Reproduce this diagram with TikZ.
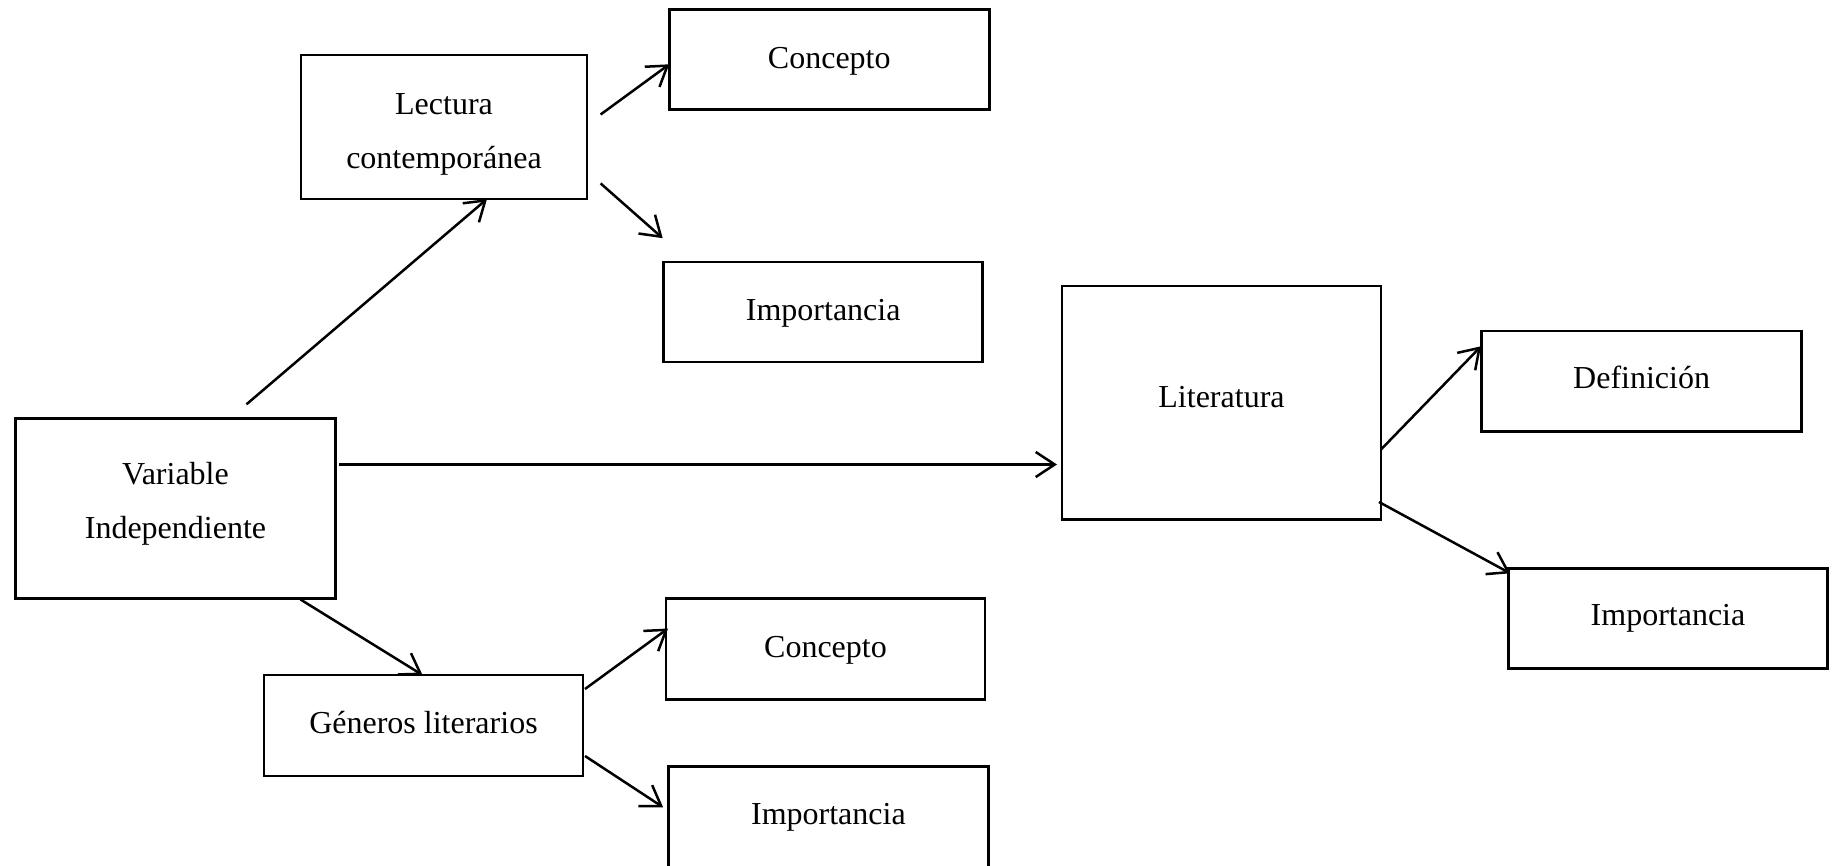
\documentclass[tikz,border=0pt]{standalone}
\usepackage{fontspec}
\setmainfont{Liberation Serif}
\usetikzlibrary{arrows.meta}
\begin{document}
\begin{tikzpicture}[x=1pt,y=-1pt,
  box/.style={draw, line width=2.6pt, inner sep=0pt, outer sep=0pt},
  lab/.style={anchor=base, inner sep=0pt, outer sep=0pt, font=\fontsize{32}{38}\selectfont},
  conn/.style={line width=2.5pt, -{Straight Barb[length=19pt,width=25pt]}}]
\useasboundingbox (0,0) rectangle (1832,866);
% boxes
\node[box, minimum width=286pt, minimum height=144pt] (lec) at (444,127) {};
\node[box, minimum width=320pt, minimum height=100pt] (con1) at (829.3,59.7) {};
\node[box, minimum width=319pt, minimum height=100pt] (imp1) at (823.2,312.2) {};
\node[box, minimum width=320pt, minimum height=180pt] (var) at (175.5,508.5) {};
\node[box, minimum width=319pt, minimum height=233pt] (lit) at (1221.5,402.7) {};
\node[box, minimum width=320pt, minimum height=100.6pt] (def) at (1641.6,381.3) {};
\node[box, minimum width=319pt, minimum height=100pt] (imp3) at (1668,618.3) {};
\node[box, minimum width=319pt, minimum height=101pt] (gen) at (423.5,725.5) {};
\node[box, minimum width=319pt, minimum height=100.7pt] (con2) at (825.5,649) {};
\node[box, minimum width=320pt, minimum height=103.5pt] (imp2) at (828.4,818.25) {};
% texts (baselines)
\node[lab] (lecA) at ([yshift=12pt]lec.center) {Lectura};
\node[lab] (lecB) at ([yshift=-42pt]lec.center) {contemporánea};
\node[lab] (con1T) at ([yshift=-8.8pt]con1.center) {Concepto};
\node[lab] (imp1T) at ([yshift=-8pt]imp1.center) {Importancia};
\node[lab] (varA) at ([yshift=23.8pt]var.center) {Variable};
\node[lab] (varB) at ([yshift=-30.2pt]var.center) {Independiente};
\node[lab] (litT) at ([yshift=-4.5pt]lit.center) {Literatura};
\node[lab] (defT) at ([yshift=-7.5pt]def.center) {Definición};
\node[lab] (imp3T) at ([yshift=-7.3pt]imp3.center) {Importancia};
\node[lab] (genT) at ([yshift=-8.2pt]gen.center) {Géneros literarios};
\node[lab] (con2T) at ([yshift=-8.5pt]con2.center) {Concepto};
\node[lab] (imp2T) at ([yshift=-6.5pt]imp2.center) {Importancia};
% connectors
\draw[conn] ([shift={(71,-14.2)}]var.north) -- ([shift={(43,0)}]lec.south);
\draw[conn] ([shift={(13.6,-12.5)}]lec.east) -- ([shift={(0,4.6)}]con1.west);
\draw[conn] ([shift={(13.6,56.4)}]lec.east) -- ([shift={(-1,-24)}]imp1.north west);
\draw[conn] ([shift={(3.3,-44)}]var.east) -- ([shift={(-5,61.8)}]lit.west);
\draw[conn] ([shift={(0.5,46.3)}]lit.east) -- ([shift={(-0.6,-35)}]def.west);
\draw[conn] ([shift={(-2,99.3)}]lit.east) -- ([shift={(1.7,5)}]imp3.north west);
\draw[conn] ([shift={(125,1)}]var.south) -- ([shift={(-1,0)}]gen.north);
\draw[conn] ([shift={(2,-36.5)}]gen.east) -- ([shift={(2,-20.5)}]con2.west);
\draw[conn] ([shift={(2,30.5)}]gen.east) -- ([shift={(-5.3,-11)}]imp2.west);
\end{tikzpicture}
\end{document}
